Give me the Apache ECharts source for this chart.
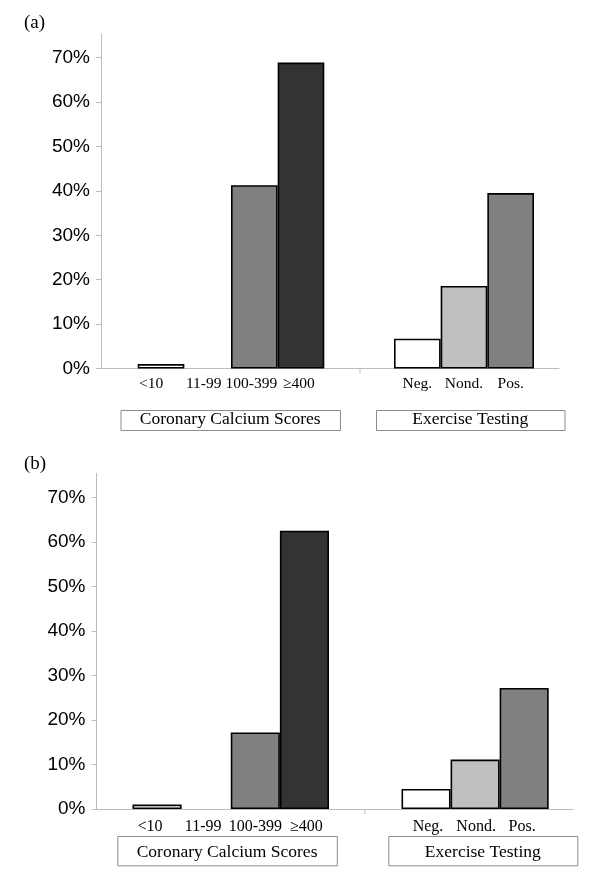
<!DOCTYPE html>
<html>
<head>
<meta charset="utf-8">
<script src="https://cdn.jsdelivr.net/npm/echarts@6/dist/echarts.min.js"></script>
<style>html,body{margin:0;padding:0;background:#fff;}#c{width:600px;height:888px;}</style>
</head>
<body>
<div id="c"></div>
<script>
// ---- data ----
const ccsCategories = ['<10', '11-99', '100-399', '\u2265400'];
const exCategories = ['Neg.', 'Nond.', 'Pos.'];
const ccsA = [1.0, 0, 41.3, 68.9];
const exA = [6.7, 18.6, 39.5];
const ccsB = [1.0, 0, 17.2, 62.5];
const exB = [4.5, 11.1, 27.2];
const yMaxTick = 70;
const yInterval = 10;
const panelLetters = ['(a)', '(b)'];
const groupTitles = ['Coronary Calcium Scores', 'Exercise Testing'];

// ---- styles ----
const ccsColors = ['#ffffff', '#c0c0c0', '#808080', '#333333'];
const exColors = ['#ffffff', '#c0c0c0', '#808080'];
const axisGray = '#bcbcbc';
const serif = '"Liberation Serif", "Times New Roman", serif';
const sans = '"Liberation Sans", Arial, sans-serif';

// panel layouts (pixels)
const panels = [
  { axisX: 101, axisTop: 34, tickTop: 57.7, base: 368.5, axisRight: 559,
    ga: [137.7, 186.6], gb: [394, 140], divX: 360, labelMargin: 7, catFont: 15.5,
    ccsShift: [-10, -4, -3, -2], exShift: [0, 0, 0],
    letter: [24, 24], boxes: [[120.5, 410, 219.5, 20], [376, 410, 188.5, 20]], textY: 419 },
  { axisX: 96.5, axisTop: 473.3, tickTop: 497.3, base: 809, axisRight: 573,
    ga: [132.5, 196.5], gb: [401.5, 147.2], divX: 365, labelMargin: 10, catFont: 16,
    ccsShift: [-7, -3, 0, 2], exShift: [2, 1, -2],
    letter: [24, 465], boxes: [[117.3, 836, 219.5, 29.3], [388.3, 836, 189, 29.3]], textY: 852 }
];
const panelData = [[ccsA, exA], [ccsB, exB]];

const grid = [], xAxis = [], yAxis = [], series = [], graphic = [];

function items(vals, colors) {
  return vals.map((v, i) => ({
    value: v,
    itemStyle: { color: colors[i], borderColor: '#000', borderWidth: v === 0 ? 0 : 1.6 }
  }));
}
function cats(names, shifts) {
  return names.map((n, i) => {
    const s = shifts[i];
    return { value: n, textStyle: { padding: s < 0 ? [0, -2 * s, 0, 0] : [0, 0, 0, 2 * s] } };
  });
}

panels.forEach((p, pi) => {
  const h0 = p.base - p.axisTop;
  const h1 = p.base - p.tickTop;
  const w0 = p.axisRight - p.axisX;
  // grid 0: axis lines
  let gi = grid.length;
  grid.push({ left: p.axisX, top: p.axisTop, width: w0, height: h0 });
  xAxis.push({ gridIndex: gi, type: 'value', min: 0, max: 1, axisLine: { show: true, lineStyle: { color: axisGray, width: 1 } },
    axisTick: { show: false }, axisLabel: { show: false }, splitLine: { show: false } });
  yAxis.push({ gridIndex: gi, type: 'value', min: 0, max: 1, axisLine: { show: true, lineStyle: { color: axisGray, width: 1 } },
    axisTick: { show: false }, axisLabel: { show: false }, splitLine: { show: false } });
  // grid 1: y ticks and labels
  gi = grid.length;
  grid.push({ left: p.axisX, top: p.tickTop, width: w0, height: h1 });
  xAxis.push({ gridIndex: gi, type: 'value', show: false });
  yAxis.push({ gridIndex: gi, type: 'value', min: 0, max: yMaxTick, interval: yInterval,
    axisLine: { show: false },
    axisTick: { show: true, length: 5, lineStyle: { color: axisGray } },
    axisLabel: { formatter: '{value}%', margin: 11, color: '#000', fontFamily: sans, fontSize: 19 },
    splitLine: { show: false } });
  // grid A and B: bars
  [[p.ga, cats(ccsCategories, p.ccsShift), panelData[pi][0], ccsColors],
   [p.gb, cats(exCategories, p.exShift), panelData[pi][1], exColors]].forEach((g) => {
    const gIdx = grid.length;
    grid.push({ left: g[0][0], top: p.tickTop, width: g[0][1], height: h1 });
    xAxis.push({ gridIndex: gIdx, type: 'category', data: g[1],
      axisLine: { show: false }, axisTick: { show: false },
      axisLabel: { margin: p.labelMargin, color: '#000', fontFamily: serif, fontSize: p.catFont, interval: 0 } });
    yAxis.push({ gridIndex: gIdx, type: 'value', min: 0, max: yMaxTick, show: false });
    series.push({ type: 'bar', xAxisIndex: gIdx, yAxisIndex: gIdx, data: items(g[2], g[3]),
      barCategoryGap: '0%', barGap: '0%', silent: true, animation: false });
  });
  // decorations
  graphic.push({ type: 'text', left: p.letter[0], top: p.letter[1] - 10,
    style: { text: panelLetters[pi], font: '19px ' + serif, fill: '#000' } });
  graphic.push({ type: 'line', shape: { x1: p.divX, y1: p.base, x2: p.divX, y2: p.base + 5 },
    style: { stroke: axisGray, lineWidth: 1 } });
  p.boxes.forEach((b, bi) => {
    graphic.push({ type: 'text', z: 10, style: { text: groupTitles[bi], x: b[0] + b[2] / 2, y: p.textY,
      align: 'center', verticalAlign: 'middle', font: '17.5px ' + serif, fill: '#000' } });
    graphic.push({ type: 'rect', z: 11, shape: { x: b[0], y: b[1] + b[3] + 0.5, width: b[2], height: 6 },
      style: { fill: '#fff' } });
    graphic.push({ type: 'rect', z: 12, shape: { x: b[0] + 0.5, y: b[1] + 0.5, width: b[2], height: b[3] },
      style: { fill: 'none', stroke: '#8c8c8c', lineWidth: 1 } });
  });
});

const chart = echarts.init(document.getElementById('c'), null, { renderer: 'canvas' });
chart.setOption({ animation: false, backgroundColor: '#fff', grid, xAxis, yAxis, series, graphic });
</script>
</body>
</html>
